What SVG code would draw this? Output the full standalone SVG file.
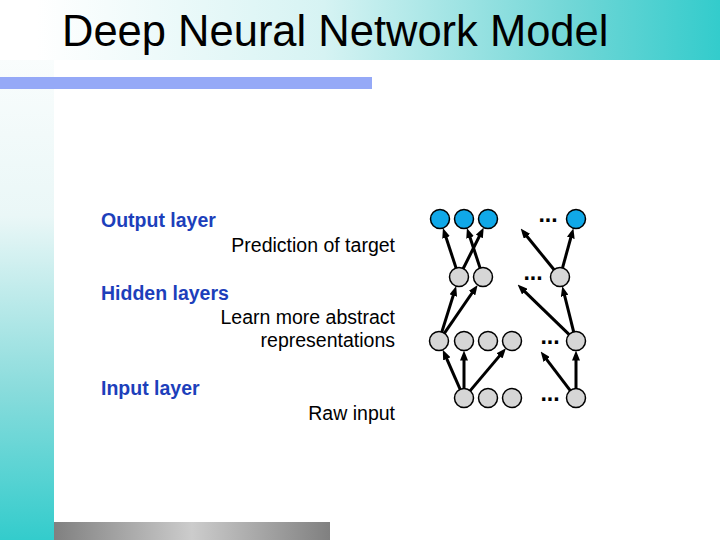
<svg xmlns="http://www.w3.org/2000/svg" width="720" height="540" viewBox="0 0 720 540">
<defs>
<linearGradient id="band" x1="0" y1="0" x2="720" y2="0" gradientUnits="userSpaceOnUse">
<stop offset="0.05" stop-color="#ffffff"/>
<stop offset="0.45" stop-color="#d6f3f3"/>
<stop offset="0.8" stop-color="#6fd6d6"/>
<stop offset="1" stop-color="#33cccc"/>
</linearGradient>
<linearGradient id="side" x1="0" y1="0" x2="0" y2="540" gradientUnits="userSpaceOnUse">
<stop offset="0" stop-color="#ffffff"/>
<stop offset="0.4" stop-color="#eaf7f7"/>
<stop offset="0.72" stop-color="#8adcdc"/>
<stop offset="1" stop-color="#33cccc"/>
</linearGradient>
<linearGradient id="gray" x1="54" y1="0" x2="330" y2="0" gradientUnits="userSpaceOnUse">
<stop offset="0" stop-color="#808080"/>
<stop offset="0.5" stop-color="#cccccc"/>
<stop offset="1" stop-color="#808080"/>
</linearGradient>
<marker id="ah" viewBox="0 0 10 8" refX="5" refY="4" markerWidth="10" markerHeight="8" markerUnits="userSpaceOnUse" orient="auto">
<path d="M0,0 L10,4 L0,8 z" fill="#000"/>
</marker>
<style>
.out{fill:#10a8e8;stroke:#000;stroke-width:1.5}
.hid{fill:#d6d6d6;stroke:#000;stroke-width:1.5}
.lbl{font-family:"Liberation Sans",Arial,sans-serif;font-size:19.5px;font-weight:bold;fill:#1d3fbb}
.desc{font-family:"Liberation Sans",Arial,sans-serif;font-size:19.5px;fill:#000;text-anchor:end}
.dots{font-family:"Liberation Sans",Arial,sans-serif;font-size:23px;font-weight:bold;fill:#000;text-anchor:middle}
#edges line{stroke:#000;stroke-width:3;marker-end:url(#ah)}
</style>
</defs>
<rect width="720" height="540" fill="#ffffff"/>
<rect x="0" y="0" width="54" height="540" fill="url(#side)"/>
<rect x="0" y="0" width="720" height="60" fill="url(#band)"/>
<rect x="0" y="77" width="372" height="12" fill="#95a9f7"/>
<rect x="54" y="522" width="276" height="18" fill="url(#gray)"/>
<text x="62" y="46" font-family="'Liberation Sans',Arial,sans-serif" font-size="43.5" fill="#000">Deep Neural Network Model</text>

<g id="labels">
<text class="lbl" x="101" y="227">Output layer</text>
<text class="desc" x="395" y="251.5">Prediction of target</text>
<text class="lbl" x="101" y="300">Hidden layers</text>
<text class="desc" x="395" y="324">Learn more abstract</text>
<text class="desc" x="395" y="347">representations</text>
<text class="lbl" x="101" y="395">Input layer</text>
<text class="desc" x="395" y="420">Raw input</text>
</g>

<g id="edges">
<line x1="460.4" y1="389.8" x2="444.8" y2="354.3"/>
<line x1="464" y1="389" x2="464" y2="355.5"/>
<line x1="469.8" y1="391.1" x2="502.7" y2="352.1"/>
<line x1="576" y1="389" x2="576" y2="355.5"/>
<line x1="570.5" y1="390.8" x2="543.7" y2="355.6"/>
<line x1="441.7" y1="332.4" x2="454.7" y2="290.8"/>
<line x1="444.1" y1="333.6" x2="474.8" y2="289.0"/>
<line x1="573.8" y1="332.3" x2="563.5" y2="291.1"/>
<line x1="569.5" y1="334.8" x2="521.2" y2="288.1"/>
<line x1="456.2" y1="268.4" x2="444.5" y2="232.8"/>
<line x1="463.0" y1="269.0" x2="481.5" y2="232.0"/>
<line x1="480.2" y1="268.4" x2="468.5" y2="232.8"/>
<line x1="562.4" y1="268.3" x2="572.1" y2="233.0"/>
<line x1="554.3" y1="270.0" x2="523.8" y2="232.5"/>
</g>

<g id="output-layer">
<g id="o1"><circle class="out" cx="440" cy="219" r="9.5"/></g>
<g id="o2"><circle class="out" cx="464" cy="219" r="9.5"/></g>
<g id="o3"><circle class="out" cx="488" cy="219" r="9.5"/></g>
<g id="o4"><circle class="out" cx="576" cy="219" r="9.5"/></g>
<text class="dots" x="548" y="222">...</text>
</g>
<g id="hidden-layer-1">
<g id="h1"><circle class="hid" cx="459" cy="277" r="9.5"/></g>
<g id="h2"><circle class="hid" cx="483" cy="277" r="9.5"/></g>
<g id="h3"><circle class="hid" cx="560" cy="277" r="9.5"/></g>
<text class="dots" x="533" y="280">...</text>
</g>
<g id="hidden-layer-2">
<g id="g1"><circle class="hid" cx="439" cy="341" r="9.5"/></g>
<g id="g2"><circle class="hid" cx="464" cy="341" r="9.5"/></g>
<g id="g3"><circle class="hid" cx="488" cy="341" r="9.5"/></g>
<g id="g4"><circle class="hid" cx="512" cy="341" r="9.5"/></g>
<g id="g5"><circle class="hid" cx="576" cy="341" r="9.5"/></g>
<text class="dots" x="550" y="344">...</text>
</g>
<g id="input-layer">
<g id="i1"><circle class="hid" cx="464" cy="398" r="9.5"/></g>
<g id="i2"><circle class="hid" cx="488" cy="398" r="9.5"/></g>
<g id="i3"><circle class="hid" cx="512" cy="398" r="9.5"/></g>
<g id="i4"><circle class="hid" cx="576" cy="398" r="9.5"/></g>
<text class="dots" x="550" y="401">...</text>
</g>
</svg>
